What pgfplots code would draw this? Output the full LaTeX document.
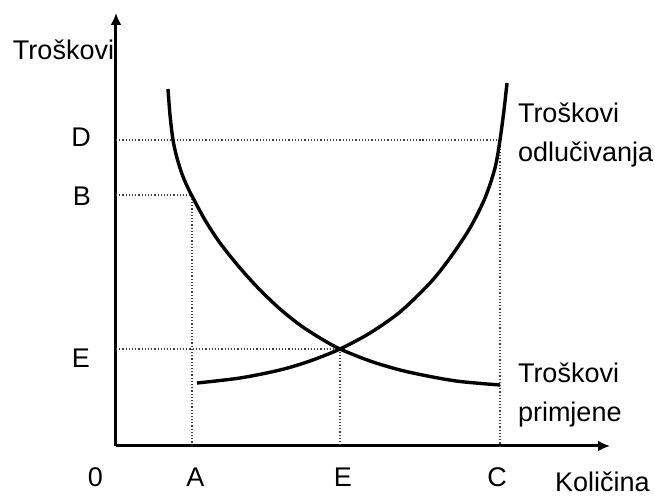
\documentclass[border=0pt]{standalone}
\usepackage{fontspec}
\setmainfont{Liberation Sans}
\usepackage{pgfplots}
\pgfplotsset{compat=1.18}
\usetikzlibrary{arrows.meta}
\tikzset{lbl/.style={font=\fontsize{13.5bp}{16bp}\selectfont, inner sep=0pt, outer sep=0pt}}
\begin{document}
\begin{tikzpicture}
\begin{axis}[
  x=0.5bp, y=0.5bp,
  xmin=0, xmax=494, ymin=0, ymax=433,
  enlargelimits=false,
  axis lines=left,
  axis line style={line width=1.5bp, -{Latex[length=6bp,width=5.5bp]}},
  xtick=\empty, ytick=\empty,
  clip=false,
]
% guide lines (dotted)
\addplot[densely dotted, line width=0.6bp, black!75] coordinates {(0,306) (384,306) (384,0)};
\addplot[densely dotted, line width=0.6bp, black!75] coordinates {(0,251) (76,251) (76,0)};
\addplot[densely dotted, line width=0.6bp, black!75] coordinates {(0,97) (224,97) (224,0)};
% Troskovi primjene (decreasing)
\addplot[line width=1.7bp, smooth, tension=0.5] coordinates {
(52,357) (54,331) (57,306) (61,288) (66,272) (71,260) (76,250) (89,226) (104,203)
(124,178) (144,156) (164,137) (184,121) (204,108) (224,97) (254,85)
(284,76) (314,69.5) (344,64.5) (384,61)};
% Troskovi odlucivanja (increasing)
\addplot[line width=1.7bp, smooth, tension=0.5] coordinates {
(81,63) (124,68) (164,76) (194,85) (224,97) (254,113) (284,134) (314,163)
(334,188) (354,218) (369,248) (379,278) (384,306) (388,336) (391,363)};
% labels
\node[lbl, anchor=base west] at (axis cs:-103,386) {Troškovi};
\node[lbl, anchor=base west] at (axis cs:439,-46) {Količina};
\node[lbl, anchor=center] at (axis cs:-35,309) {D};
\node[lbl, anchor=center] at (axis cs:-34,250) {B};
\node[lbl, anchor=center] at (axis cs:-35,88) {E};
\node[lbl, anchor=base] at (axis cs:-20.5,-41) {0};
\node[lbl, anchor=base] at (axis cs:79.5,-41) {A};
\node[lbl, anchor=base] at (axis cs:227,-41) {E};
\node[lbl, anchor=base] at (axis cs:381,-41) {C};
\node[lbl, anchor=base west] at (axis cs:402,323) {Troškovi};
\node[lbl, anchor=base west] at (axis cs:402,284) {odlučivanja};
\node[lbl, anchor=base west] at (axis cs:402,63) {Troškovi};
\node[lbl, anchor=base west] at (axis cs:402,24) {primjene};
\path (axis cs:-116,-51) rectangle (axis cs:539,446);
\end{axis}
\end{tikzpicture}
\end{document}
